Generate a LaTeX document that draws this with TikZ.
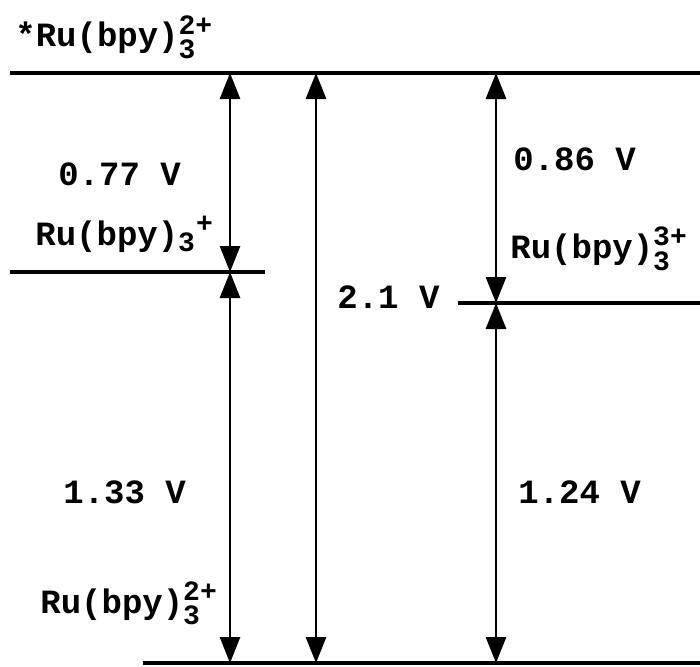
\documentclass[tikz,border=0pt]{standalone}
\usepackage{amsmath}
\usepackage{fontspec}
\setmainfont{Liberation Mono}
\DeclareMathSizes{17}{17}{14}{12}
\usepackage{tikz}
\usetikzlibrary{arrows.meta,positioning}
% complex ion label: Ru(bpy)_3 with a charge
\newcommand{\rubpy}[1]{Ru(bpy)$_{\text{3}}^{\text{#1}}$}
\begin{document}
\begin{tikzpicture}[x=0.5pt,y=0.5pt,font=\fontsize{17}{20}\selectfont\bfseries,
  lvl/.style={line width=2pt},
  arr/.style={{Triangle[length=13pt,width=10pt]}-{Triangle[length=13pt,width=10pt]},line width=1.4pt},
  lbl/.style={anchor=base west,inner sep=0pt}]
\useasboundingbox (0,0) rectangle (700,666);
% excited state level
\coordinate (exL) at (10,593);
\coordinate (exR) at (700,593);
\draw[lvl] (exL) -- (exR);
\node[lbl] (exlab) at (15,619) {*\rubpy{2+}};
% reduced level
\coordinate (redL) at (10,394);
\coordinate (redR) at (265,394);
\draw[lvl] (redL) -- (redR);
\node[lbl] (redlab) at (35,421) {Ru(bpy)$_{\text{3}}{}^{\text{+}}$};
% oxidised level
\coordinate (oxL) at (458,363);
\coordinate (oxR) at (700,363);
\draw[lvl] (oxL) -- (oxR);
\node[lbl] (oxlab) at (510,408) {\rubpy{3+}};
% ground state level
\coordinate (gsL) at (143,3);
\coordinate (gsR) at (700,3);
\draw[lvl] (gsL) -- (gsR);
\node[lbl] (gslab) at (40,53) {\rubpy{2+}};
% left arrows
\coordinate (a1) at (230,593);
\coordinate (a2) at (230,394);
\coordinate (a3) at (230,3);
\draw[arr] (a1) -- (a2);
\draw[arr] (a2) -- (a3);
\node[lbl] (v077) at (58,481) {0.77 V};
\node[lbl] (v133) at (63,163) {1.33 V};
% middle arrow
\coordinate (b1) at (316,593);
\coordinate (b2) at (316,3);
\draw[arr] (b1) -- (b2);
\node[lbl] (v21) at (337,358) {2.1 V};
% right arrows
\coordinate (c1) at (496,593);
\coordinate (c2) at (496,363);
\coordinate (c3) at (496,3);
\draw[arr] (c1) -- (c2);
\draw[arr] (c2) -- (c3);
\node[lbl] (v086) at (513,496) {0.86 V};
\node[lbl] (v124) at (518,163) {1.24 V};
\end{tikzpicture}
\end{document}
